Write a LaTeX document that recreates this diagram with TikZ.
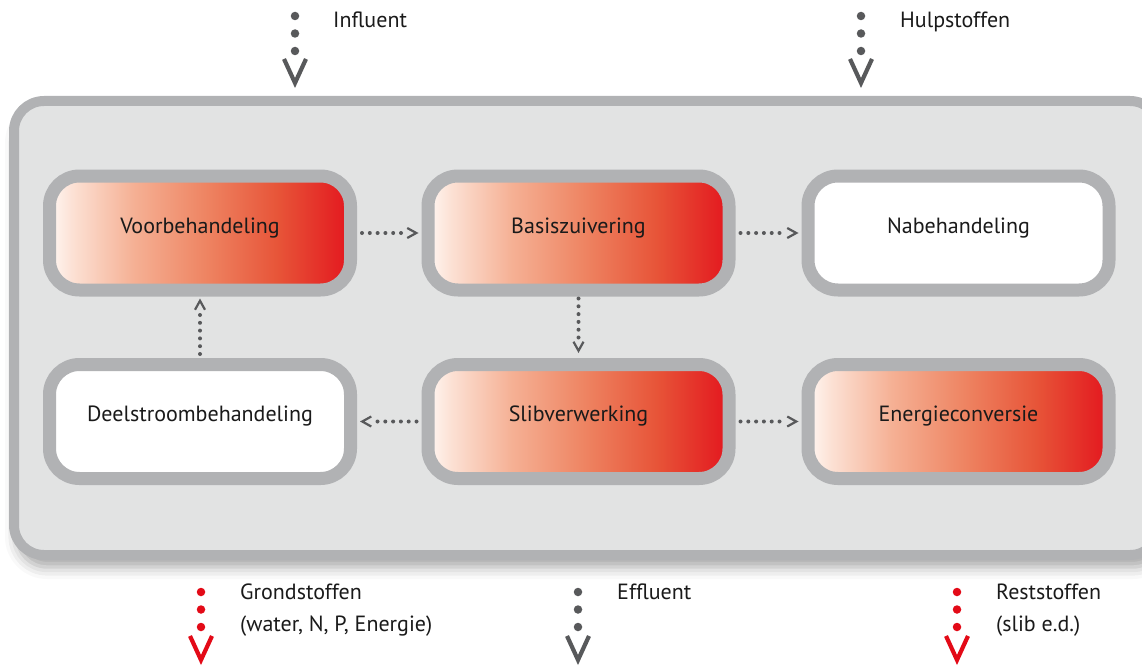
\documentclass[tikz,border=0pt]{standalone}
\usepackage{fontspec}
\setmainfont{PT Sans}
\usetikzlibrary{arrows.meta,shadows.blur}
\definecolor{frame}{HTML}{B1B2B4}
\definecolor{panel}{HTML}{E2E3E3}
\definecolor{dotgray}{HTML}{58595B}
\definecolor{flowred}{HTML}{E30A17}
\definecolor{ink}{HTML}{1A1A1A}
\definecolor{r0}{HTML}{FFF7F3}
\definecolor{r1}{HTML}{FCE0D3}
\definecolor{r2}{HTML}{F5B094}
\definecolor{r3}{HTML}{EE8462}
\definecolor{r4}{HTML}{E75438}
\definecolor{r5}{HTML}{E3161E}
% heat ramp used for the active stages (the path spans 25bp..75bp)
\pgfdeclarehorizontalshading{heatramp}{100bp}{color(0bp)=(r0); color(25bp)=(r0);
  color(29bp)=(r1); color(39bp)=(r2); color(51bp)=(r3); color(63bp)=(r4);
  color(75bp)=(r5); color(100bp)=(r5)}
\begin{document}
\begin{tikzpicture}[x=1pt,y=-1pt,
  every node/.style={font=\fontsize{22}{32}\selectfont, text=ink},
  stage/.style={draw=frame, line width=13pt, rounded corners=30pt,
    minimum width=301pt, minimum height=114pt, inner sep=0pt,
    text height=7pt, text depth=7pt},
  hotstage/.style={stage, shading=heatramp},
  coolstage/.style={stage, fill=white},
  % dotted connector; the chevron is drawn by a postaction so no dot falls inside it
  % #1 = gap at the start, #2 = gap before the tip
  flow/.style n args={2}{draw=dotgray, line width=4pt, line cap=round,
    dash pattern=on 0pt off 7.8pt, shorten <=#1, shorten >=#2+12pt,
    postaction={draw=dotgray, line cap=butt, dash pattern=on 0pt off 4000pt,
      shorten >=#2,
      -{Straight Barb[length=9pt,width=10pt,line width=2.2pt]}}},
  % #1 = colour, #2 = gap at the start, #3 = gap before the tip
  bigflow/.style n args={3}{draw=#1, line width=8.5pt, line cap=round,
    dash pattern=on 0pt off 17.5pt, shorten <=#2, shorten >=#3+25pt,
    postaction={draw=#1, line cap=butt, dash pattern=on 0pt off 4000pt,
      shorten >=#3,
      -{Straight Barb[length=24pt,width=22pt,line width=4.2pt]}}},
  extlabel/.style={anchor=base west, align=left, inner sep=2pt},
]
\useasboundingbox (0,0) rectangle (1142,666);

% plant boundary
\node[draw=frame, fill=panel, line width=10pt, rounded corners=30pt,
  minimum width=1146pt, minimum height=454pt, inner sep=0pt,
  blur shadow={shadow xshift=3pt, shadow yshift=-12pt,
    shadow blur radius=12pt, shadow opacity=35}]
  (plant) at (587,328) {};

% process stages
\node[hotstage]  (vb) at (200,233)   {Voorbehandeling};
\node[hotstage]  (bz) at (578.5,233) {Basiszuivering};
\node[coolstage] (nb) at (958.5,233) {Nabehandeling};
\node[coolstage] (ds) at (200,421.5)   {Deelstroombehandeling};
\node[hotstage]  (sv) at (578.5,421.5) {Slibverwerking};
\node[hotstage]  (ec) at (958.5,421.5) {Energieconversie};

% internal flows
\draw[flow={5pt}{3pt}] (vb) -- (bz);
\draw[flow={5pt}{3pt}] (bz) -- (nb);
\draw[flow={2pt}{5pt}] (bz) -- (sv);
\draw[flow={5pt}{3pt}] (sv) -- (ds);
\draw[flow={5pt}{3pt}] (sv) -- (ec);
\draw[flow={4pt}{2pt}] (ds) -- (vb);

% inputs
\coordinate (inf) at (295,16);
\coordinate (hulp) at (861,16);
\draw[bigflow={dotgray}{0pt}{8pt}] (inf) -- (inf |- plant.north);
\draw[bigflow={dotgray}{0pt}{8pt}] (hulp) -- (hulp |- plant.north);
\node[extlabel] (linf) at (331,28) {Influent};
\node[extlabel] (lhulp) at (898,28) {Hulpstoffen};

% outputs
\coordinate (grond) at (201,665);
\coordinate (eff) at (578,665);
\coordinate (rest) at (957,665);
\draw[bigflow={flowred}{32pt}{0pt}] (plant.south -| grond) -- (grond);
\draw[bigflow={dotgray}{32pt}{0pt}] (plant.south -| eff) -- (eff);
\draw[bigflow={flowred}{32pt}{0pt}] (plant.south -| rest) -- (rest);
\node[extlabel] (lgrond) at (238,631) {Grondstoffen\\(water, N, P, Energie)};
\node[extlabel] (leff) at (615,599) {Effluent};
\node[extlabel] (lrest) at (994,631) {Reststoffen\\(slib e.d.)};
\end{tikzpicture}
\end{document}
